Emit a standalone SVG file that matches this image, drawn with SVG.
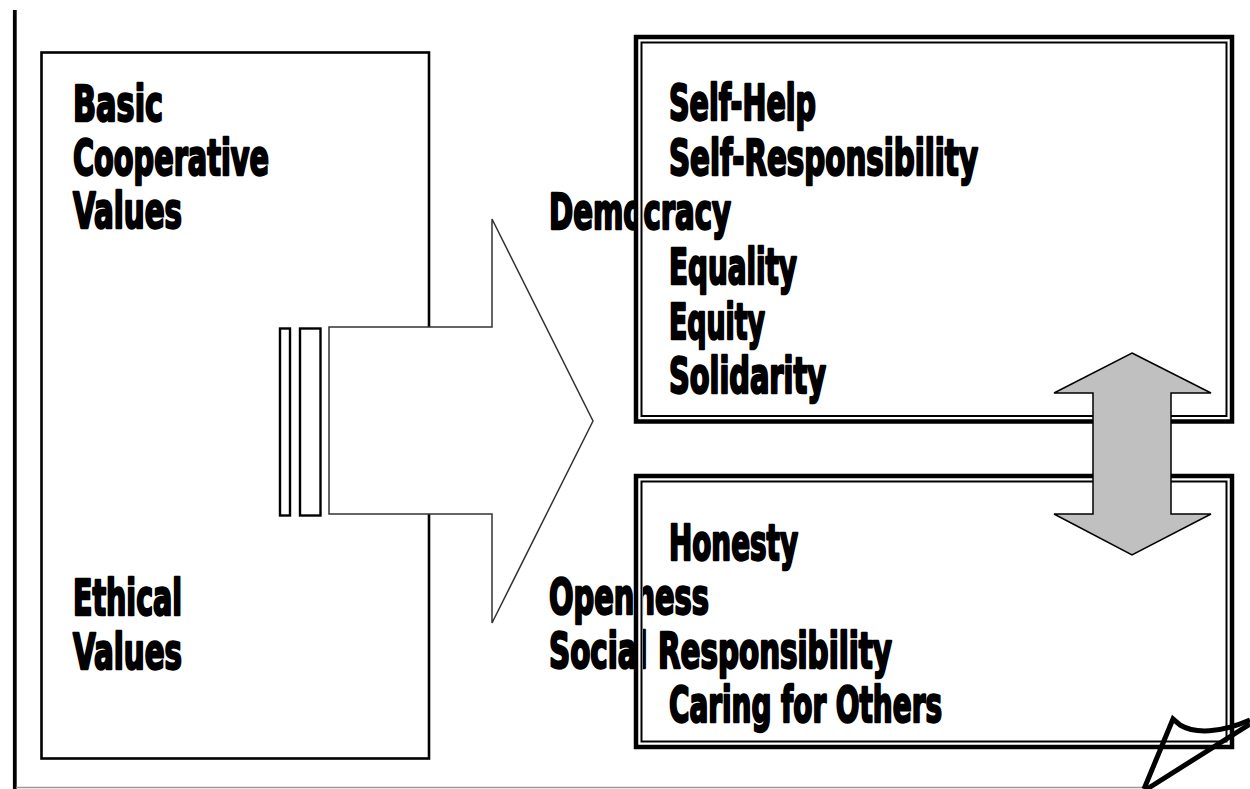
<svg xmlns="http://www.w3.org/2000/svg" width="1250" height="789" viewBox="0 0 1250 789">
<style>
.t{font-family:"Liberation Sans Narrow","DejaVu Sans Condensed","Liberation Sans",sans-serif;font-weight:bold;font-size:50px;fill:#000;stroke:#000;stroke-width:2.4px;stroke-linejoin:round}
.band{fill:none;stroke:#fff;stroke-width:9}
.thick{fill:none;stroke:#000;stroke-width:4.5}
.thin{fill:none;stroke:#000;stroke-width:2}
</style>
<rect width="1250" height="789" fill="#fff"/>
<line x1="14.8" y1="10" x2="14.8" y2="789" stroke="#000" stroke-width="3.8"/>
<line x1="16" y1="787.5" x2="1146" y2="787.5" stroke="#999" stroke-width="1.5"/>
<g id="basic-values">
<rect x="41.5" y="52.5" width="387.5" height="706" fill="#fff" stroke="#000" stroke-width="2.6"/>
<text class="t" x="73" y="121" textLength="90" lengthAdjust="spacingAndGlyphs">Basic</text>
<text class="t" x="73" y="175" textLength="196" lengthAdjust="spacingAndGlyphs">Cooperative</text>
<text class="t" x="73" y="228" textLength="109" lengthAdjust="spacingAndGlyphs">Values</text>
<text class="t" x="73" y="615" textLength="109" lengthAdjust="spacingAndGlyphs">Ethical</text>
<text class="t" x="73" y="669" textLength="109" lengthAdjust="spacingAndGlyphs">Values</text>
</g>
<g id="connectors">
<rect x="280" y="328.5" width="10" height="187" fill="#fff" stroke="#000" stroke-width="2.4"/>
<rect x="300" y="328.5" width="20.5" height="187" fill="#fff" stroke="#000" stroke-width="2.4"/>
<polygon points="329,327 492,327 492,219 593,421 492,623 492,514 329,514" fill="#fff" stroke="#333" stroke-width="1.5"/>
</g>
<g id="cooperative-values">
<text class="t" x="669" y="120" textLength="147" lengthAdjust="spacingAndGlyphs">Self-Help</text>
<text class="t" x="669" y="175" textLength="309" lengthAdjust="spacingAndGlyphs">Self-Responsibility</text>
<text class="t" x="549" y="229" textLength="182" lengthAdjust="spacingAndGlyphs">Democracy</text>
<text class="t" x="669" y="284" textLength="128" lengthAdjust="spacingAndGlyphs">Equality</text>
<text class="t" x="669" y="339" textLength="96" lengthAdjust="spacingAndGlyphs">Equity</text>
<text class="t" x="669" y="393" textLength="157" lengthAdjust="spacingAndGlyphs">Solidarity</text>
<rect class="band" x="638.5" y="39.5" width="591" height="379.5"/>
<rect class="thick" x="636" y="37" width="596" height="384.5"/>
<rect class="thin" x="641.5" y="42.5" width="585" height="373.5"/>
</g>
<g id="ethical-values">
<text class="t" x="669" y="560" textLength="129" lengthAdjust="spacingAndGlyphs">Honesty</text>
<text class="t" x="549" y="614" textLength="160" lengthAdjust="spacingAndGlyphs">Openness</text>
<text class="t" x="549" y="668" textLength="343" lengthAdjust="spacingAndGlyphs">Social Responsibility</text>
<text class="t" x="669" y="722" textLength="273" lengthAdjust="spacingAndGlyphs">Caring for Others</text>
<rect class="band" x="638.5" y="478.5" width="591" height="266"/>
<rect class="thick" x="636" y="476" width="596" height="271"/>
<rect class="thin" x="641.5" y="481.5" width="585" height="260"/>
</g>
<g id="double-arrow">
<polygon points="1132,353 1211,393 1171,393 1171,514 1211,514 1132,555 1054,514 1093,514 1093,393 1054,393" fill="#c0c0c0" stroke="#000" stroke-width="1.5"/>
</g>
<g id="page-curl" fill="none" stroke="#000" stroke-width="5" stroke-linejoin="miter">
<path d="M1144,789 L1173,719 L1180,725 C1195,734 1220,733 1250,720"/>
<path d="M1147,789 L1250,724"/>
</g>
</svg>
